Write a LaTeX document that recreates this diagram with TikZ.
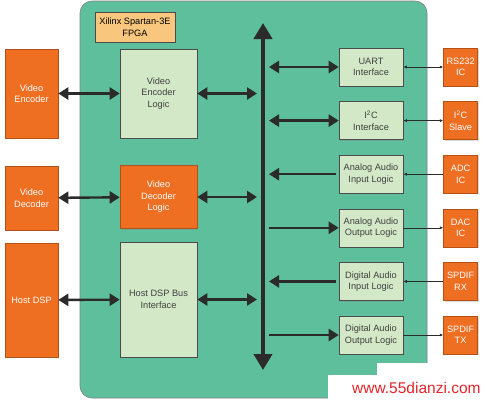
\documentclass[tikz,border=0pt]{standalone}
\usepackage{fontspec}
\setmainfont{Liberation Sans}
\usetikzlibrary{arrows.meta,positioning,shadows}
\definecolor{fpga}{HTML}{5DBF9C}
\definecolor{chip}{HTML}{EE6E22}
\definecolor{logic}{HTML}{D3E8C6}
\definecolor{tag}{HTML}{F8C67C}
\definecolor{ink}{HTML}{2B2B2B}
\definecolor{wmred}{HTML}{E3262B}

\begin{document}
\begin{tikzpicture}[x=1pt,y=-1pt,node distance=15pt,
  font=\fontsize{9.2}{11.5}\selectfont,
  box/.style={draw=ink!85,line width=0.6pt,align=center,inner sep=1pt,
    drop shadow={shadow xshift=1.2pt,shadow yshift=-1.2pt,opacity=0.3}},
  chipbox/.style={box,fill=chip,draw=chip!75!black,text=white},
  logicbox/.style={box,fill=logic,text=ink!90},
  iobox/.style={logicbox,minimum width=64pt,minimum height=38pt},
  pinbox/.style={chipbox,minimum width=34pt,minimum height=38pt},
  fat/.style={line width=2.4pt,ink},
  both/.style={fat,{Triangle[length=10pt,width=12pt]}-{Triangle[length=10pt,width=12pt]}},
  one/.style={fat,-{Triangle[length=10pt,width=12pt]}},
  wire/.style={line width=0.6pt,ink,-{Latex[length=3.5pt,width=3pt]}},
  wires/.style={wire,{Latex[length=3.5pt,width=3pt]}-{Latex[length=3.5pt,width=3pt]}}]
  \useasboundingbox (0,0) rectangle (487,400);

  % FPGA body
  \node[draw=ink!60,line width=0.6pt,fill=fpga,rounded corners=12pt,minimum width=347pt,minimum height=397pt] (fpga) at (253.5,199.5) {};
  \node[box,fill=tag,minimum width=80pt,minimum height=30pt] (title) at (135,27) {Xilinx Spartan-3E\\FPGA};

  % external devices, left
  \node[chipbox,minimum width=53pt,minimum height=89pt] (venc) at (31.5,93.5) {Video\\Encoder};
  \node[chipbox,minimum width=53pt,minimum height=64pt] (vdec) at (31.5,198) {Video\\Decoder};
  \node[chipbox,minimum width=53pt,minimum height=114pt] (host) at (31.5,300) {Host DSP};

  % logic blocks, left
  \node[logicbox,minimum width=77pt,minimum height=89pt] (vencl) at (158.5,93.5) {Video\\Encoder\\Logic};
  \node[chipbox,minimum width=77pt,minimum height=63pt] (vdecl) at (158.5,197) {Video\\Decoder\\Logic};
  \node[logicbox,minimum width=77pt,minimum height=115pt] (hostl) at (158.5,299.5) {Host DSP Bus\\Interface};

  % internal bus
  \coordinate (bustop) at (263,23);
  \coordinate (busbot) at (263,370);
  \draw[line width=4pt,ink,{Triangle[length=16pt,width=18pt]}-{Triangle[length=16pt,width=18pt]}] (bustop) -- (busbot);

  % logic blocks, right
  \node[iobox] (uart) at (371,67) {UART\\Interface};
  \node[iobox,below=of uart] (i2c) {I\textsuperscript{2}C\\Interface};
  \node[iobox,below=of i2c] (adcl) {Analog Audio\\Input Logic};
  \node[iobox,below=of adcl] (dacl) {Analog Audio\\Output Logic};
  \node[iobox,below=of dacl] (dinl) {Digital Audio\\Input Logic};
  \node[iobox,below=of dinl] (doutl) {Digital Audio\\Output Logic};

  % external devices, right
  \node[pinbox,right=40pt of uart] (rs) {RS232\\IC};
  \node[pinbox,right=40pt of i2c] (slave) {I\textsuperscript{2}C\\Slave};
  \node[pinbox,right=40pt of adcl] (adc) {ADC\\IC};
  \node[pinbox,right=40pt of dacl] (dac) {DAC\\IC};
  \node[pinbox,right=40pt of dinl] (rx) {SPDIF\\RX};
  \node[pinbox,right=40pt of doutl] (tx) {SPDIF\\TX};

  \draw[both] (venc) -- (vencl);
  \draw[both] (vdec) -- (vdecl);
  \draw[both] (host) -- (hostl);
  \draw[both,shorten >=6pt] (vencl) -- (vencl -| bustop);
  \draw[both,shorten >=6pt] (vdecl) -- (vdecl -| bustop);
  \draw[both,shorten >=6pt] (hostl) -- (hostl -| bustop);

  \draw[both,shorten <=6pt] (uart -| bustop) -- (uart);
  \draw[both,shorten <=6pt] (i2c -| bustop) -- (i2c);
  \draw[one,shorten >=6pt,shorten <=3pt] (adcl) -- (adcl -| bustop);
  \draw[one,shorten <=6pt] (dacl -| bustop) -- (dacl);
  \draw[one,shorten >=6pt,shorten <=3pt] (dinl) -- (dinl -| bustop);
  \draw[one,shorten <=6pt] (doutl -| bustop) -- (doutl);

  \draw[wires] (uart) -- (rs);
  \draw[wires] (i2c) -- (slave);
  \draw[wire] (adc) -- (adcl);
  \draw[wire] (dacl) -- (dac);
  \draw[wire] (rx) -- (dinl);
  \draw[wire] (doutl) -- (tx);

  % watermark
  \fill[white] (328,375) rectangle (487,400);
  \fill[white] (377,363) rectangle (487,375);
  \node[text=wmred,font=\fontsize{15.5}{16}\selectfont,anchor=base west,inner sep=0pt] (wm) at (352,393) {www.55dianzi.com};
\end{tikzpicture}
\end{document}
